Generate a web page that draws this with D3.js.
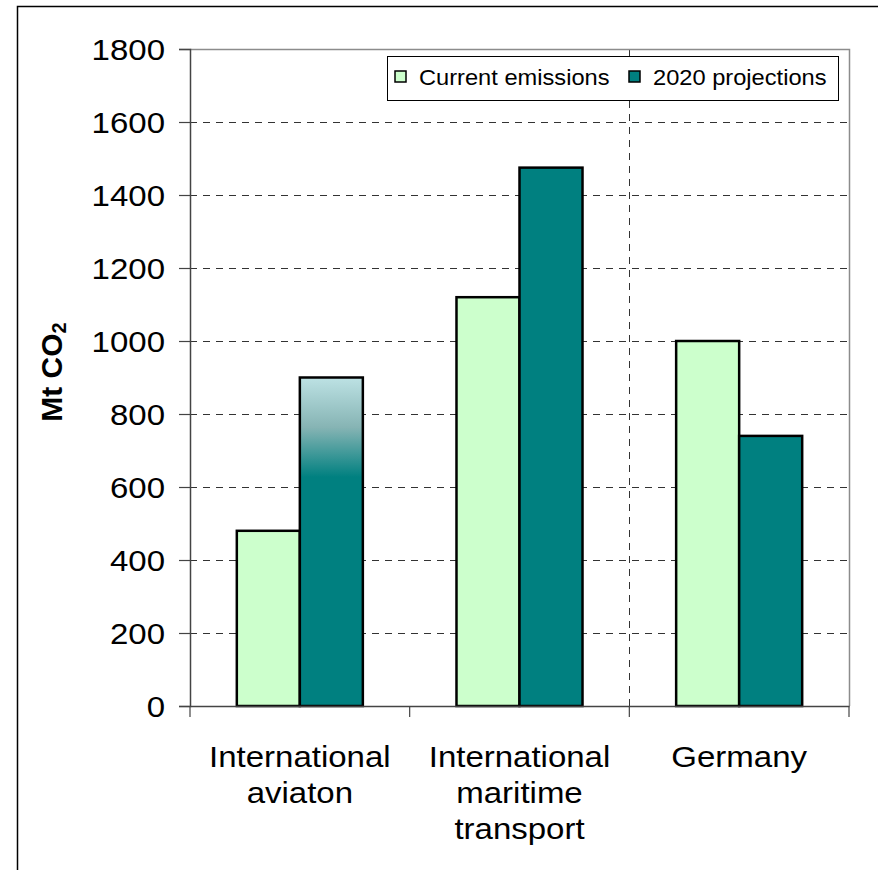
<!DOCTYPE html>
<html>
<head>
<meta charset="utf-8">
<script src="https://cdn.jsdelivr.net/npm/d3@7"></script>
<style>
  html, body { margin: 0; padding: 0; background: #fff; }
  svg { display: block; font-family: "Liberation Sans", Arial, sans-serif; }
</style>
</head>
<body>
<svg id="chart" width="878" height="870"></svg>
<script>
// ---- data ----
const categories = [["International", "aviaton"], ["International", "maritime", "transport"], ["Germany"]];
const categoryKeys = ["aviation", "maritime", "germany"];
const seriesNames = ["Current emissions", "2020 projections"];
const currentEmissions = [480, 1120, 1000];
const projections2020 = [900, 1475, 740];
const aviationUncertainFrom = 627;   // gradient (uncertain) part of aviation projection starts here
const yTicks = [0, 200, 400, 600, 800, 1000, 1200, 1400, 1600, 1800];
const yTitle = "Mt CO";
const yTitleSub = "2";

const colors = ["#ccffcc", "#008080"];
const SX = 1.1; // horizontal stretch of text in the reference

(function () {
const svg = d3.select("#chart");

// outer frame
svg.append("path").attr("d", "M17.5,900 L17.5,6.5 L900,6.5")
  .attr("fill", "none").attr("stroke", "#000").attr("stroke-width", 1.5);

const pL = 190, pR = 849, pT = 49, pB = 706;
const x = d3.scaleBand().domain(categoryKeys).range([pL, pR]).paddingInner(0).paddingOuter(0);
const x1 = d3.scaleBand().domain(seriesNames).range([0, x.bandwidth()]).paddingInner(0).paddingOuter(0.743);
const y = d3.scaleLinear().domain([0, 1800]).range([pB, pT]);

// gradient
const defs = svg.append("defs");
const grad = defs.append("linearGradient").attr("id", "uncert")
  .attr("gradientUnits", "userSpaceOnUse")
  .attr("x1", 0).attr("x2", 0)
  .attr("y1", y(projections2020[0])).attr("y2", y(aviationUncertainFrom));
grad.append("stop").attr("offset", 0).attr("stop-color", "#bde2e4");
grad.append("stop").attr("offset", 0.5).attr("stop-color", "#86b4b4");
grad.append("stop").attr("offset", 1).attr("stop-color", "#008080");

// gridlines
svg.append("g").selectAll("line").data(yTicks.filter(d => d > 0 && d < 1800)).join("line")
  .attr("x1", pL).attr("x2", pR)
  .attr("y1", d => Math.round(y(d)) + 0.5).attr("y2", d => Math.round(y(d)) + 0.5)
  .attr("stroke", "#333").attr("stroke-width", 1).attr("stroke-dasharray", "7,6");

// vertical separator between maritime and Germany
svg.append("line")
  .attr("x1", Math.round(x("germany")) + 0.5).attr("x2", Math.round(x("germany")) + 0.5)
  .attr("y1", pT).attr("y2", pB)
  .attr("stroke", "#333").attr("stroke-width", 1).attr("stroke-dasharray", "7,6");

// plot border top/right (gray)
svg.append("path").attr("d", `M${pL},${pT + 0.5} L${pR + 0.5},${pT + 0.5} L${pR + 0.5},${pB}`)
  .attr("fill", "none").attr("stroke", "#8c8c8c").attr("stroke-width", 1.5);

// bars
const rows = categoryKeys.map((k, i) => ({ key: k, values: [currentEmissions[i], projections2020[i]] }));
const groups = svg.append("g").selectAll("g").data(rows).join("g")
  .attr("transform", d => `translate(${x(d.key)},0)`);
groups.selectAll("rect").data(d => d.values.map((v, j) => ({ v, j, key: d.key }))).join("rect")
  .attr("x", d => x1(seriesNames[d.j]))
  .attr("width", x1.bandwidth())
  .attr("y", d => y(d.v))
  .attr("height", d => y(0) - y(d.v))
  .attr("fill", d => (d.key === "aviation" && d.j === 1) ? "url(#uncert)" : colors[d.j])
  .attr("stroke", "#000").attr("stroke-width", 2.5);

// y axis
const yAxis = svg.append("g").attr("transform", `translate(${pL},0)`)
  .call(d3.axisLeft(y).tickValues(yTicks).tickSize(11).tickFormat(""));
yAxis.select(".domain").attr("stroke", "#444").attr("stroke-width", 1.5);
yAxis.selectAll(".tick line").attr("stroke", "#444").attr("stroke-width", 1.2);

svg.append("g").selectAll("g").data(yTicks).join("g")
  .attr("transform", d => `translate(165,${y(d)}) scale(${SX},1)`)
  .append("text").attr("text-anchor", "end").attr("dy", "0.36em")
  .attr("font-size", 30).attr("fill", "#000").text(d => d);

// x axis
const xAxis = svg.append("g").attr("transform", `translate(0,${pB})`)
  .call(d3.axisBottom(x).tickSize(0).tickFormat(""));
xAxis.select(".domain").attr("stroke", "#444").attr("stroke-width", 1.5);
svg.append("g").selectAll("line").data(categoryKeys.map(k => x(k)).concat([pR])).join("line")
  .attr("x1", d => d).attr("x2", d => d).attr("y1", pB).attr("y2", pB + 11)
  .attr("stroke", "#444").attr("stroke-width", 1.2);

// category labels
const lbl = svg.append("g").selectAll("g").data(rows).join("g")
  .attr("transform", d => `translate(${x(d.key) + x.bandwidth() / 2},767) scale(${SX},1)`)
  .append("text").attr("text-anchor", "middle").attr("font-size", 30).attr("fill", "#000");
lbl.selectAll("tspan").data((d, i) => categories[i]).join("tspan")
  .attr("x", 0).attr("y", (d, i) => i * 36).text(d => d);

// y title
const yt = svg.append("text")
  .attr("transform", "translate(62,372) rotate(-90)")
  .attr("text-anchor", "middle").attr("font-size", 30).attr("font-weight", "bold").attr("fill", "#000");
yt.append("tspan").text(yTitle);
yt.append("tspan").attr("font-size", 20).attr("dy", 4).text(yTitleSub);

// legend
const lg = svg.append("g");
lg.append("rect").attr("x", 387.5).attr("y", 56.5).attr("width", 451).attr("height", 44)
  .attr("fill", "#fff").attr("stroke", "#000").attr("stroke-width", 1);
const legendX = [395, 629];
seriesNames.forEach((s, i) => {
  lg.append("rect").attr("x", legendX[i]).attr("y", 71).attr("width", 11).attr("height", 11)
    .attr("fill", colors[i]).attr("stroke", "#000").attr("stroke-width", 1.5);
  lg.append("g").attr("transform", `translate(${legendX[i] + 24},85) scale(${SX},1)`)
    .append("text").attr("font-size", 21.5).attr("fill", "#000").text(s);
});
})();
</script>
</body>
</html>
